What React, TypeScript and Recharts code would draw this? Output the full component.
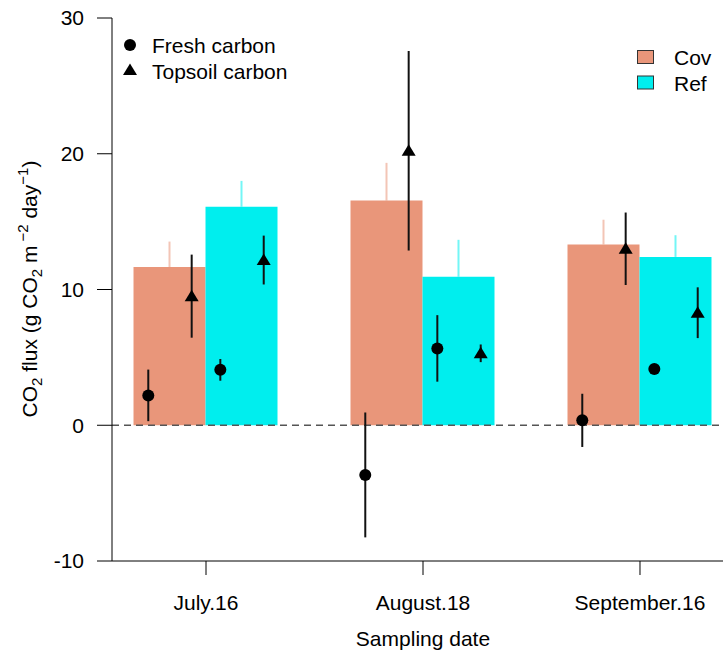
import {
  ComposedChart, Bar, Scatter, XAxis, YAxis, ErrorBar, ReferenceLine,
} from "recharts";

const DATES = ["July.16", "August.18", "September.16"];

// bar means and (upper) standard errors
const COV = [11.65, 16.55, 13.32];
const COV_ERR = [1.88, 2.78, 1.82];
const REF = [16.1, 10.94, 12.4];
const REF_ERR = [1.9, 2.72, 1.6];

// point estimates with symmetric errors
const FRESH_COV = [2.2, -3.66, 0.36];
const FRESH_COV_ERR = [1.9, 4.6, 1.96];
const FRESH_REF = [4.08, 5.66, 4.14];
const FRESH_REF_ERR = [0.8, 2.45, 0.25];
const TOP_COV = [9.51, 20.22, 13.0];
const TOP_COV_ERR = [3.06, 7.35, 2.67];
const TOP_REF = [12.17, 5.3, 8.29];
const TOP_REF_ERR = [1.8, 0.65, 1.87];

const Y_TICKS = [-10, 0, 10, 20, 30];
const X_DOMAIN = [0.5668, 3.4332];

const COV_COLOR = "#E9967A";
const REF_COLOR = "#00EEEE";
const FONT = "'Liberation Sans', Arial, Helvetica, sans-serif";

// horizontal offsets of the points within each date group (x units)
const OFF_OUTER = 0.266;
const OFF_INNER = 0.066;

// note: "ref" can't be a field name, bar entries get spread as props
const barData = DATES.map((d, i) => ({
  x: i + 1,
  date: d,
  cov: COV[i],
  covErr: [0, COV_ERR[i]],
  refVal: REF[i],
  refErr: [0, REF_ERR[i]],
}));

const freshData = [
  ...FRESH_COV.map((v, i) => ({ x: i + 1 - OFF_OUTER, y: v, err: FRESH_COV_ERR[i] })),
  ...FRESH_REF.map((v, i) => ({ x: i + 1 + OFF_INNER, y: v, err: FRESH_REF_ERR[i] })),
];

const topData = [
  ...TOP_COV.map((v, i) => ({ x: i + 1 - OFF_INNER, y: v, err: TOP_COV_ERR[i] })),
  ...TOP_REF.map((v, i) => ({ x: i + 1 + OFF_OUTER, y: v, err: TOP_REF_ERR[i] })),
];

const renderDot = (p: any) => <circle cx={p.cx} cy={p.cy} r={6} fill="#000" />;
const renderTri = (p: any) => (
  <polygon
    points={`${p.cx},${p.cy - 6.5} ${p.cx - 7},${p.cy + 5} ${p.cx + 7},${p.cy + 5}`}
    fill="#000"
  />
);

export default function App() {
  const tick = { fontSize: 21, fontFamily: FONT, fill: "#000" };
  return (
    <div style={{ position: "absolute", left: 0, top: 0, width: 723, height: 654, overflow: "hidden", background: "#fff" }}>
      <ComposedChart
        width={734}
        height={654}
        data={barData}
        margin={{ top: 18, right: 0, bottom: 0, left: 0 }}
        barGap={0}
      >
        {/* hidden twin axis so bar width isn't squeezed by the point positions */}
        <XAxis xAxisId="bars" dataKey="x" type="number" domain={X_DOMAIN} allowDataOverflow hide height={0} />
        {/* visible axis, used by the points */}
        <XAxis
          xAxisId="pts"
          dataKey="x"
          type="number"
          domain={X_DOMAIN}
          allowDataOverflow
          ticks={[1, 2, 3]}
          tickFormatter={(v: number) => DATES[v - 1]}
          height={93}
          tickSize={14}
          tickMargin={20}
          tick={tick}
          stroke="#000"
        />
        <YAxis
          type="number"
          domain={[-10, 30]}
          allowDataOverflow
          ticks={Y_TICKS}
          width={112}
          tickSize={15}
          tickMargin={13}
          tick={tick}
          stroke="#000"
        />
        <Bar xAxisId="bars" dataKey="cov" barSize={72} fill={COV_COLOR} isAnimationActive={false}>
          <ErrorBar dataKey="covErr" width={0} stroke={COV_COLOR} strokeOpacity={0.55} strokeWidth={2} />
        </Bar>
        <Bar xAxisId="bars" dataKey="refVal" barSize={72} fill={REF_COLOR} isAnimationActive={false}>
          <ErrorBar dataKey="refErr" width={0} stroke={REF_COLOR} strokeOpacity={0.55} strokeWidth={2} />
        </Bar>
        <ReferenceLine xAxisId="pts" y={0} stroke="#555" strokeDasharray="7 5" strokeWidth={1.5} />
        <Scatter xAxisId="pts" data={freshData} dataKey="y" shape={renderDot} isAnimationActive={false}>
          <ErrorBar dataKey="err" direction="y" width={0} stroke="#111" strokeWidth={2} />
        </Scatter>
        <Scatter xAxisId="pts" data={topData} dataKey="y" shape={renderTri} isAnimationActive={false}>
          <ErrorBar dataKey="err" direction="y" width={0} stroke="#111" strokeWidth={2} />
        </Scatter>
      </ComposedChart>
      <svg
        width={723}
        height={654}
        style={{ position: "absolute", left: 0, top: 0, pointerEvents: "none" }}
        fontFamily={FONT}
        fontSize={21}
      >
        {/* axis titles */}
        <text x={423} y={646} textAnchor="middle" fill="#000">Sampling date</text>
        <text
          x={37}
          y={289}
          transform="rotate(-90, 37, 289)"
          textAnchor="middle"
          fontSize={21}
          fill="#000"
        >
          CO<tspan dy={5} fontSize={15}>2</tspan>
          <tspan dy={-5}> flux (g CO</tspan>
          <tspan dy={5} fontSize={15}>2</tspan>
          <tspan dy={-5}> m</tspan>
          <tspan dy={-9} dx={4} fontSize={15}>−2</tspan>
          <tspan dy={9}> day</tspan>
          <tspan dy={-9} fontSize={15}>−1</tspan>
          <tspan dy={9}>)</tspan>
        </text>
        {/* legends */}
        <circle cx={130} cy={45} r={6} fill="#000" />
        <text x={152} y={52.5} fill="#000">Fresh carbon</text>
        <polygon points="130,63.5 123,75 137,75" fill="#000" />
        <text x={152} y={78.5} fill="#000">Topsoil carbon</text>
        <rect x={637.5} y={50.5} width={16} height={13} fill={COV_COLOR} stroke="#333" strokeWidth={1} />
        <text x={674} y={65} fill="#000">Cov</text>
        <rect x={637.5} y={76} width={16} height={13} fill={REF_COLOR} stroke="#333" strokeWidth={1} />
        <text x={674} y={90.5} fill="#000">Ref</text>
      </svg>
    </div>
  );
}
